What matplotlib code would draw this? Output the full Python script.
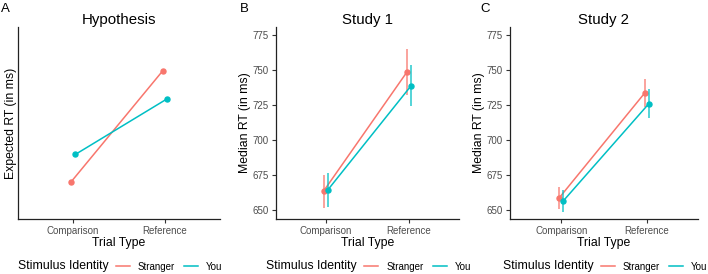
import numpy as np
import matplotlib
matplotlib.use("Agg")
import matplotlib.pyplot as plt
from matplotlib.lines import Line2D

plt.rcParams['font.family'] = ['Liberation Sans', 'DejaVu Sans']

# data
trial_types = ['Comparison', 'Reference']
groups = ['Stranger', 'You']
colors = ['#F8766D', '#00BFC4']

hyp_stranger = [1.0, 3.0]
hyp_you = [1.5, 2.5]

s1_stranger = [663.7, 748.8]
s1_stranger_err = [11.8, 16.2]
s1_you = [664.5, 739.0]
s1_you_err = [12.3, 14.8]

s2_stranger = [658.8, 733.7]
s2_stranger_err = [8.0, 10.2]
s2_you = [656.8, 726.2]
s2_you_err = [8.0, 10.5]

y_ticks = [650, 675, 700, 725, 750, 775]

W, H = 708, 274
fig = plt.figure(figsize=(W / 100, H / 100), dpi=100)


def px_axes(l, r, t, b):
    return fig.add_axes([l / W, 1 - b / H, (r - l) / W, (b - t) / H])


def style(ax, title, ylabel):
    for s in ['top', 'right']:
        ax.spines[s].set_visible(False)
    for s in ['left', 'bottom']:
        ax.spines[s].set_linewidth(0.9)
        ax.spines[s].set_color('#222222')
    ax.set_xlim(0.4, 2.6)
    ax.set_xticks([1, 2])
    ax.set_xticklabels(trial_types)
    ax.tick_params(labelsize=7, labelcolor='#4D4D4D', color='#333333',
                   length=3, width=0.8, pad=2)
    ax.set_title(title, fontsize=10.8, pad=2.5)
    ax.set_xlabel('Trial Type', fontsize=8.8, labelpad=1)
    ax.set_ylabel(ylabel, fontsize=8.8, labelpad=1)


def legend(ax_l, ax_r):
    cx = (ax_l + ax_r) / 2
    x0 = cx - 101
    y = 1 - 266.5 / H
    fig.text(x0 / W, y, 'Stimulus Identity', fontsize=8.8, va='center', ha='left')
    handles = [Line2D([], [], color=c, lw=1.1) for c in colors]
    fig.legend(handles, groups, loc='center left', bbox_to_anchor=((x0 + 98) / W, y),
               ncol=2, frameon=False, fontsize=7, handlelength=1.45,
               handletextpad=0.8, columnspacing=0.95, borderpad=0, borderaxespad=0)


dodge = 0.025
x = np.array([1, 2])

# panel A
axA = px_axes(18, 220, 27, 219)
for vals, c, off in [(hyp_stranger, colors[0], -dodge), (hyp_you, colors[1], dodge)]:
    axA.plot(x + off, vals, color=c, lw=1.1, marker='o', ms=3.6)
axA.set_ylim(0.339, 3.79)
axA.set_yticks([])
style(axA, 'Hypothesis', 'Expected RT (in ms)')
legend(18, 220)

# panels B and C
panels = [
    (275.7, 459, 'Study 1', s1_stranger, s1_stranger_err, s1_you, s1_you_err),
    (510, 698, 'Study 2', s2_stranger, s2_stranger_err, s2_you, s2_you_err),
]
for l, r, title, st, st_e, yo, yo_e in panels:
    ax = px_axes(l, r, 27, 219)
    for vals, err, c, off in [(st, st_e, colors[0], -dodge), (yo, yo_e, colors[1], dodge)]:
        ax.errorbar(x + off, vals, yerr=err, fmt='none', ecolor=c, elinewidth=1.1,
                    capsize=0, alpha=0.85)
        ax.plot(x + off, vals, color=c, lw=1.1, marker='o', ms=3.6)
    ax.set_ylim(643.75, 781.0)
    ax.set_yticks(y_ticks)
    style(ax, title, 'Median RT (in ms)')
    legend(l, r)

# panel letters
for lab, px in [('A', 0.5), ('B', 240), ('C', 480)]:
    fig.text(px / W, 1 - 3 / H, lab, fontsize=9.5, va='top', ha='left')

fig.savefig('out.png', dpi=100)
